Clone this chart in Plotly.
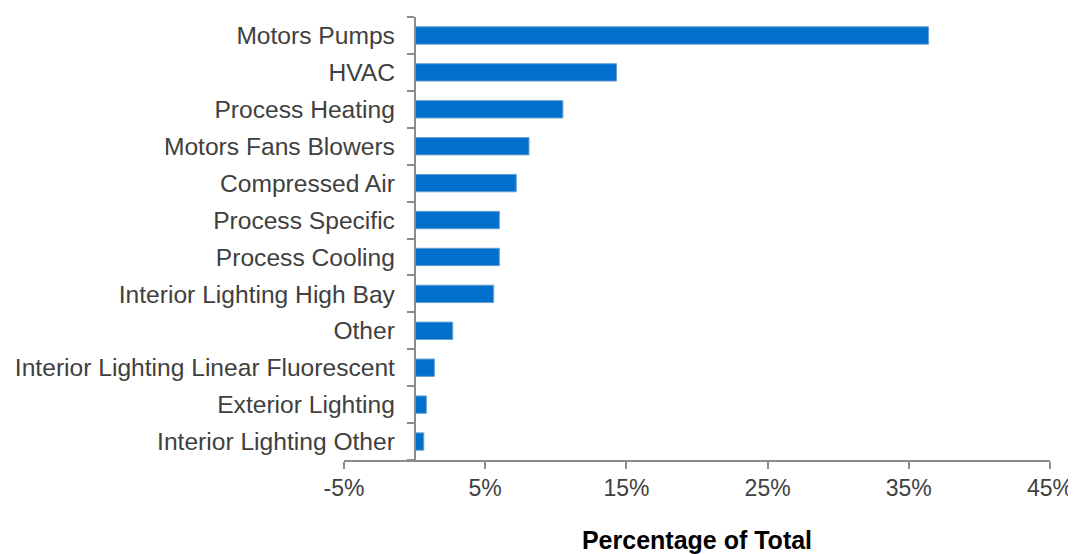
import plotly.graph_objects as go

categories = [
    "Motors Pumps", "HVAC", "Process Heating", "Motors Fans Blowers",
    "Compressed Air", "Process Specific", "Process Cooling",
    "Interior Lighting High Bay", "Other", "Interior Lighting Linear Fluorescent",
    "Exterior Lighting", "Interior Lighting Other",
]
values = [36.4, 14.3, 10.5, 8.1, 7.2, 6.0, 6.0, 5.6, 2.7, 1.4, 0.83, 0.65]
tick_vals = [-5, 5, 15, 25, 35, 45]
tick_text = ["-5%", "5%", "15%", "25%", "35%", "45%"]

fig = go.Figure(go.Bar(
    x=values, y=categories, orientation="h",
    marker=dict(color="#0070CC", line=dict(color="#6a9fd0", width=1)),
    width=0.47,
))

font_family = "Liberation Sans, Arial, sans-serif"
# page body has an 8px default margin, so the figure is sized/offset to compensate
fig.update_layout(
    width=1068, height=546,
    margin=dict(l=336, r=26, t=9, b=94),
    plot_bgcolor="white", paper_bgcolor="white",
    showlegend=False,
    font=dict(family=font_family, size=23, color="#404040"),
    xaxis=dict(
        range=[-5, 45], tickvals=tick_vals, ticktext=tick_text,
        automargin=False,
        showgrid=False, zeroline=False,
        showline=True, linecolor="#8c8c8c", linewidth=1.5,
        ticks="outside", ticklen=7, tickcolor="#8c8c8c", tickwidth=1.5,
        tickfont=dict(size=23, color="#404040"),
        title=dict(text="<b>Percentage of Total</b>",
                   font=dict(size=25, color="#000000", family=font_family),
                   standoff=32),
    ),
    yaxis=dict(
        categoryorder="array", categoryarray=categories[::-1],
        anchor="free", position=0.1,
        automargin=False,
        showgrid=False, zeroline=False,
        showline=True, linecolor="#8c8c8c", linewidth=1.5,
        ticks="outside", ticklen=7, tickcolor="#8c8c8c", tickwidth=1.5,
        tickson="boundaries",
        tickfont=dict(size=24.6, color="#404040"),
        ticklabelstandoff=14,
    ),
)

fig.write_html("out.html")
